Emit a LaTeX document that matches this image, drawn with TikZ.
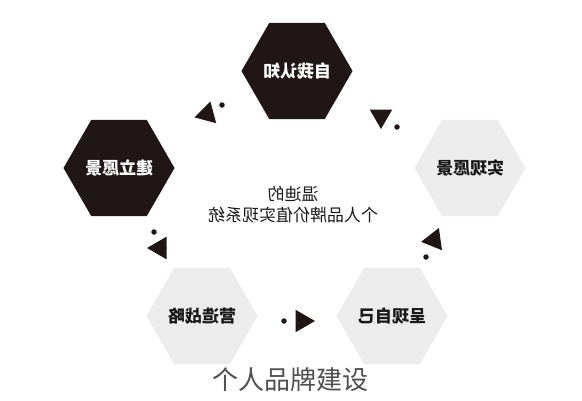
\documentclass[tikz,border=0pt]{standalone}
\usepackage{fontspec}
\usepackage{tikz}
\usetikzlibrary{calc}
\usetikzlibrary{shapes.geometric}
\newfontfamily\cjk{Noto Sans CJK SC}
\definecolor{hexdark}{RGB}{32, 22, 22}
\definecolor{hexlight}{RGB}{236, 236, 236}
\definecolor{inkdark}{RGB}{25, 25, 25}
\definecolor{captiongray}{RGB}{80, 80, 80}
\newcommand{\mirror}[1]{\reflectbox{#1}}

\begin{document}
\begin{tikzpicture}[x=1pt, y=-1pt,
    hexbox/.style={regular polygon, regular polygon sides=6, minimum size=105pt, inner sep=0pt,
                   font=\cjk\bfseries\fontsize{17}{20}\selectfont},
    hexblack/.style={hexbox, fill=hexdark, text=white},
    hexgray/.style={hexbox, fill=hexlight, text=inkdark},
    tip/.style={regular polygon, regular polygon sides=3, minimum size=26pt, inner sep=0pt, fill=hexdark},
    dot/.style={circle, fill=hexdark, minimum size=5.5pt, inner sep=0pt}]
            \fill[white] (0,0) rectangle (582,400);
            \useasboundingbox (0,0) rectangle (582,400);
            \node[hexblack] (know)    at (297, 71) {\mirror{自我认知}};
            \node[hexblack] (build)   at (119,168) {\mirror{建立愿景}};
            \node[hexgray]  (realize) at (470,168) {\mirror{实现愿景}};
            \node[hexgray]  (plan)    at (202,316) {\mirror{营造战略}};
            \node[hexgray]  (present) at (392,316) {\mirror{呈现自己}};
            \node[tip, rotate=-15] (tipA) at (207,114) {};
            \node[dot]             (dotA) at (222,105) {};
            \node[tip, rotate=180] (tipB) at (381,116) {};
            \node[dot]             (dotB) at (397,127) {};
            \node[tip, rotate=90]  (tipC) at (160,248) {};
            \node[dot]             (dotC) at (154,232) {};
            \node[tip, rotate=98]  (tipD) at (434,240) {};
            \node[dot]             (dotD) at (426,257) {};
            \node[tip, rotate=-90] (tipE) at (302,321) {};
            \node[dot]             (dotE) at (284,321) {};
            \node[align=center, text=inkdark, font=\cjk\fontsize{17}{20}\selectfont] (core) at (293,207)
                 {\mirror{\begin{tabular}{@{}c@{}}温迪的\\个人品牌价值实现系统\end{tabular}}};
            \node[text=captiongray, font=\cjk\fontsize{26}{30}\selectfont] (title) at (290,380) {个人品牌建设};
        \end{tikzpicture}
\end{document}
